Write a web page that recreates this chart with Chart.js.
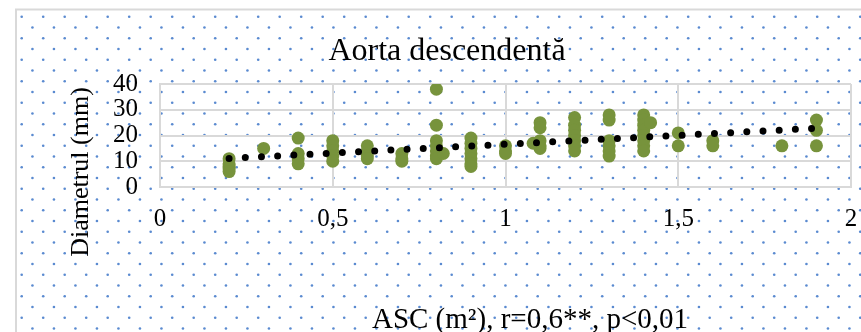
<!DOCTYPE html>
<html>
<head>
<meta charset="utf-8">
<script src="https://cdn.jsdelivr.net/npm/chart.js@4"></script>
<style>
  body { margin: 0; background: #fff; }
  #wrap { width: 861px; height: 332px; }
</style>
</head>
<body>
<div id="wrap"><canvas id="aortaChart" width="861" height="332"></canvas></div>
<script>
// values: body surface area (m²) vs diameter (mm)
const ascValues = [
  0.2, 0.2, 0.2, 0.2, 0.2,
  0.3,
  0.4, 0.4, 0.4, 0.4,
  0.5, 0.5, 0.5, 0.5, 0.5,
  0.6, 0.6, 0.6, 0.6,
  0.7, 0.7, 0.7,
  0.8, 0.8, 0.8, 0.8, 0.8, 0.8, 0.8, 0.82,
  0.9, 0.9, 0.9, 0.9, 0.9, 0.9, 0.9,
  1.0, 1.0, 1.0,
  1.08, 1.1, 1.1, 1.1, 1.1, 1.1,
  1.2, 1.2, 1.2, 1.2, 1.2, 1.2, 1.2,
  1.3, 1.3, 1.3, 1.3, 1.3, 1.3,
  1.4, 1.4, 1.4, 1.4, 1.4, 1.4, 1.4, 1.4, 1.42,
  1.5, 1.5,
  1.6, 1.6,
  1.8,
  1.9, 1.9, 1.9
];
const diameterValues = [
  11, 9, 8, 7, 6,
  15,
  19, 13, 11, 9,
  18, 16, 14, 12, 10,
  16, 14, 12, 11,
  13, 11, 10,
  38, 24, 18, 16, 14, 12, 11, 13,
  19, 17, 15, 13, 11, 9, 8,
  16, 14, 13,
  17, 25, 23, 18, 16, 15,
  27, 24, 22, 20, 18, 16, 14,
  28, 26, 18, 16, 14, 12,
  28, 26, 24, 22, 20, 18, 16, 14, 25,
  21, 16,
  18, 16,
  16,
  26, 22, 16
];

// linear trend line end points
const trendX = [0.2, 1.9];
const trendY = [11.1, 22.8];

const xTickValues = [0, 0.5, 1, 1.5, 2];
const xTickLabels = ['0', '0,5', '1', '1,5', '2'];
const yTickValues = [0, 10, 20, 30, 40];

const chartTitle = 'Aorta descendentă';
const xTitle = 'ASC (m²), r=0,6**, p<0,01';
const yTitle = 'Diametrul (mm)';

const serif = "'Liberation Serif', 'Times New Roman', serif";
const gridGrey = '#d9d9d9';

// dotted background + outer frame
const backdrop = {
  id: 'backdrop',
  beforeDraw(chart) {
    const c = chart.ctx;
    const w = chart.width, h = chart.height;
    c.save();
    c.fillStyle = '#fff';
    c.fillRect(0, 0, w, h);
    c.fillStyle = '#5a8ad0';
    let row = 0;
    for (let y = 16.7; y < h + 2; y += 10.75) {
      const x0 = row % 2 === 0 ? 21.7 : 32.45;
      for (let x = x0; x < w + 2; x += 21.5) {
        c.beginPath();
        c.arc(x, y, 1.3, 0, Math.PI * 2);
        c.fill();
      }
      row++;
    }
    c.strokeStyle = gridGrey;
    c.lineWidth = 2;
    c.strokeRect(16, 9.5, w + 20, h + 20);
    c.restore();
  }
};

// titles placed like the original
const titles = {
  id: 'titles',
  afterDraw(chart) {
    const c = chart.ctx;
    c.save();
    c.fillStyle = '#000';
    c.textAlign = 'center';
    c.textBaseline = 'alphabetic';
    c.font = '32px ' + serif;
    c.fillText(chartTitle, 447, 60);
    c.font = '29px ' + serif;
    c.fillText(xTitle, 530, 328);
    c.translate(88, 172);
    c.rotate(-Math.PI / 2);
    c.font = '26px ' + serif;
    c.fillText(yTitle, 0, 0);
    c.restore();
  }
};

const ctx = document.getElementById('aortaChart').getContext('2d');

new Chart(ctx, {
  type: 'scatter',
  data: {
    datasets: [
      {
        label: 'trend',
        data: trendX.map((x, i) => ({ x: x, y: trendY[i] })),
        showLine: true,
        pointRadius: 0,
        borderColor: '#000',
        borderWidth: 7,
        borderCapStyle: 'round',
        borderDash: [0, 16.2],
        order: 0
      },
      {
        label: 'Diametrul',
        data: ascValues.map((x, i) => ({ x: x, y: diameterValues[i] })),
        backgroundColor: '#77933c',
        borderWidth: 0,
        pointRadius: 6.5,
        order: 1
      }
    ]
  },
  options: {
    responsive: false,
    animation: false,
    devicePixelRatio: 1,
    layout: { padding: { left: 0, right: 10, top: 84, bottom: 0 } },
    plugins: {
      legend: { display: false },
      tooltip: { enabled: false },
      title: { display: false }
    },
    scales: {
      x: {
        type: 'linear',
        min: 0,
        max: 2,
        afterBuildTicks: (s) => { s.ticks = xTickValues.map(v => ({ value: v })); },
        afterFit: (s) => { s.height = 145; s.paddingLeft = 0; s.paddingRight = 0; },
        grid: { color: gridGrey, lineWidth: 2, drawTicks: false },
        border: { color: gridGrey, width: 2 },
        ticks: {
          padding: 17,
          autoSkip: false,
          maxRotation: 0,
          color: '#000',
          font: { family: serif, size: 25 },
          callback: (v, i) => xTickLabels[i]
        }
      },
      y: {
        min: 0,
        max: 40,
        afterBuildTicks: (s) => { s.ticks = yTickValues.map(v => ({ value: v })); },
        afterFit: (s) => { s.width = 160; s.paddingTop = 0; s.paddingBottom = 0; },
        grid: { color: gridGrey, lineWidth: 2, drawTicks: false },
        border: { color: gridGrey, width: 2 },
        ticks: {
          padding: 22,
          autoSkip: false,
          color: '#000',
          font: { family: serif, size: 25 }
        }
      }
    }
  },
  plugins: [backdrop, titles]
});
</script>
</body>
</html>
